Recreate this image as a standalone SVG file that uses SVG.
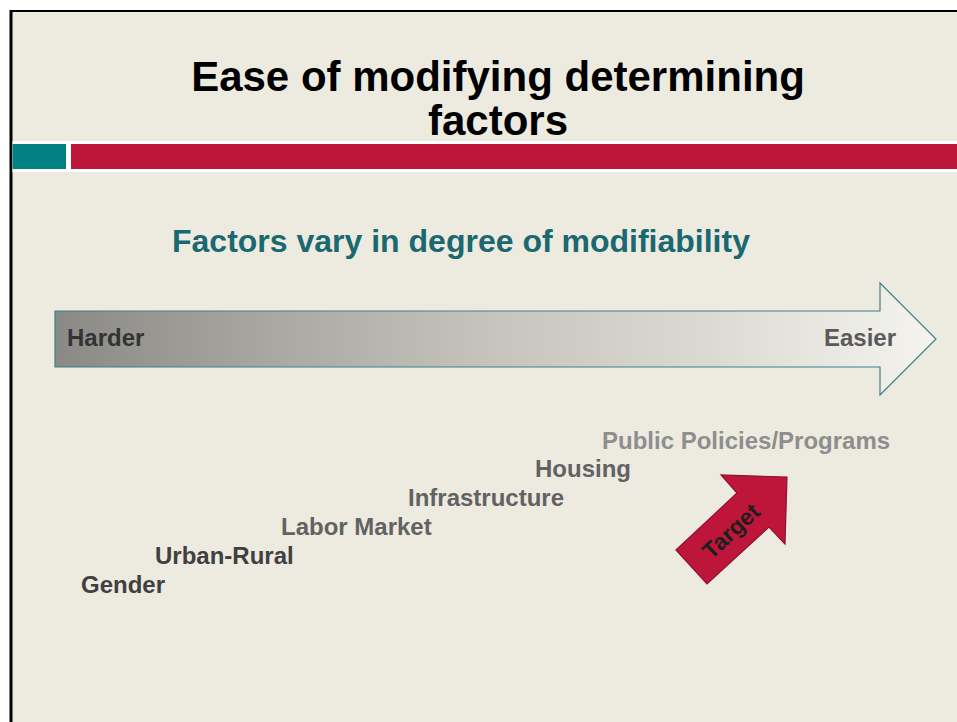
<svg xmlns="http://www.w3.org/2000/svg" width="957" height="722" viewBox="0 0 957 722">
  <defs>
    <linearGradient id="easeGrad" x1="55" y1="0" x2="936" y2="0" gradientUnits="userSpaceOnUse">
      <stop offset="0" stop-color="#8a8985"/>
      <stop offset="0.25" stop-color="#a9a8a2"/>
      <stop offset="0.5" stop-color="#c6c4bd"/>
      <stop offset="0.75" stop-color="#dcdbd3"/>
      <stop offset="1" stop-color="#f4f3ee"/>
    </linearGradient>
    <style>
      text { font-family: "Liberation Sans", Arial, sans-serif; font-weight: bold; }
      .title { font-size: 42px; fill: #000; text-anchor: middle; }
      .sub { font-size: 32px; fill: #1a6870; }
      .lbl { font-size: 24px; }
      .dark { fill: #404040; }
      .mid { fill: #626262; }
      .light { fill: #8e8e8e; }
    </style>
  </defs>

  <!-- page and slide frame -->
  <rect x="0" y="0" width="957" height="722" fill="#ffffff"/>
  <rect x="9.5" y="10" width="948" height="712" fill="#000000"/>
  <rect x="12.5" y="12" width="945" height="710" fill="#edebe0"/>

  <!-- header band -->
  <rect x="12.5" y="141" width="945" height="31" fill="#ffffff"/>
  <rect x="12.5" y="144" width="53.5" height="25" fill="#008080"/>
  <rect x="71" y="144" width="886" height="25" fill="#be163b"/>

  <!-- title -->
  <g id="title">
    <text class="title" x="498" y="91">Ease of modifying determining</text>
    <text class="title" x="498" y="135">factors</text>
  </g>

  <g id="subtitle">
    <text class="sub" x="172" y="252">Factors vary in degree of modifiability</text>
  </g>

  <!-- scale arrow: harder to easier -->
  <g id="scale-arrow">
    <polygon points="55,311 880,311 880,283 936,339 880,395 880,367 55,367" fill="url(#easeGrad)" stroke="#3f8088" stroke-width="1.2"/>
    <text class="lbl" x="67" y="346" fill="#333333">Harder</text>
    <text class="lbl" x="896" y="346" fill="#5a5a5a" text-anchor="end">Easier</text>
  </g>

  <!-- factor labels -->
  <g id="factor-gender"><text class="lbl dark" x="81" y="593">Gender</text></g>
  <g id="factor-urban-rural"><text class="lbl dark" x="155" y="564">Urban-Rural</text></g>
  <g id="factor-labor-market"><text class="lbl mid" x="281" y="535">Labor Market</text></g>
  <g id="factor-infrastructure"><text class="lbl mid" x="408" y="506">Infrastructure</text></g>
  <g id="factor-housing"><text class="lbl mid" x="535" y="477">Housing</text></g>
  <g id="factor-public-policies"><text class="lbl light" x="602" y="449">Public Policies/Programs</text></g>

  <!-- target arrow -->
  <g id="target">
    <polygon points="676,550 737,493 721,475 787,477 785,544 769,527 707,584" fill="#be163b" stroke="#8e1230" stroke-width="1.2" stroke-linejoin="miter"/>
    <text x="0" y="8" font-size="23" fill="#1e1e1e" text-anchor="middle" transform="translate(731,531) rotate(-43)">Target</text>
  </g>
</svg>
